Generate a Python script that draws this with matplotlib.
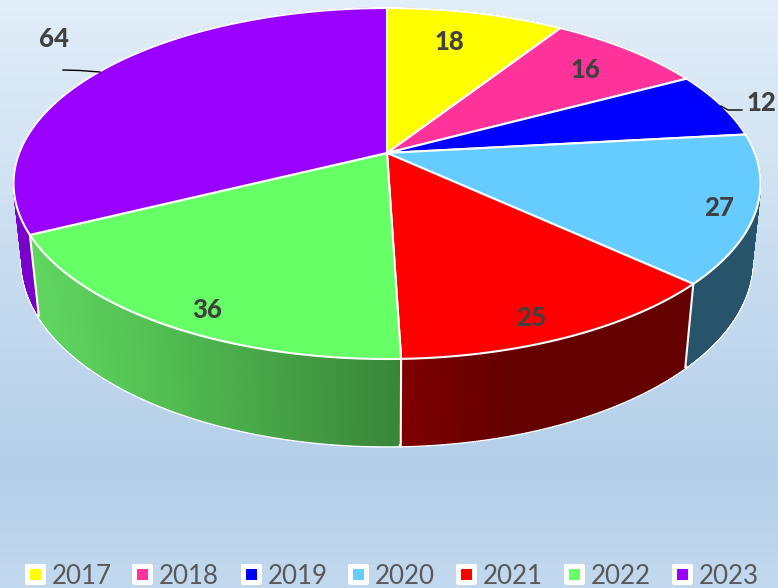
import numpy as np
import matplotlib
matplotlib.use('Agg')
import matplotlib.pyplot as plt
from matplotlib.colors import to_rgb
from matplotlib.patches import Polygon, Rectangle, FancyBboxPatch

plt.rcParams['font.family'] = ['Lato', 'DejaVu Sans']

years = ['2017', '2018', '2019', '2020', '2021', '2022', '2023']
values = [18, 16, 12, 27, 25, 36, 64]
colors = ['#ffff00', '#ff3399', '#0000ff', '#66ccff', '#ff0000', '#66ff66', '#9900ff']

# wall shading, (x pixel, colour) stops
wall_shades = {
    0: [(0, '#808000')],
    1: [(0, '#8a1f5c')],
    2: [(0, '#000080')],
    3: [(0, '#27536b')],
    4: [(400, '#800000'), (510, '#640000')],
    5: [(38, '#60d660'), (130, '#56c656'), (400, '#398539')],
    6: [(0, '#7a00cc')],
}

label_pos = [(449, 42), (585, 70), (761, 103), (719, 208), (531, 318), (207, 310), (54, 39)]
legend_x = [25, 132, 241, 348, 456, 564, 672]

# pie projection, fitted in pixels
cx, cy = 387, 153
ax_b, ax_a = 367.8, 170.2
k, m, depth = 0.1738, 0.0236, 78.4


def project(theta, z=0):
    u, v = np.sin(theta), -np.cos(theta)
    w = 1 - k * v + m * z
    return cx + ax_b * u / w, cy + (ax_a * v + depth * z) / w


fig = plt.figure(figsize=(7.78, 5.88), dpi=100)
ax = fig.add_axes([0, 0, 1, 1])
ax.set_xlim(0, 778)
ax.set_ylim(588, 0)
ax.axis('off')

# background gradient
ys = np.arange(588)
rgb = np.zeros((588, 1, 3))
for i in range(3):
    rgb[:, 0, i] = np.interp(ys, [0, 470, 588],
                             [c[i] for c in (to_rgb('#e2eef9'), to_rgb('#b4cfe9'), to_rgb('#c3d9ef'))])
ax.imshow(rgb, extent=[0, 778, 588, 0], aspect='auto', zorder=0)

edges = np.cumsum([0] + values) / sum(values) * 2 * np.pi

# walls, back to front. The white bottom rim goes under the fill so only its outer half shows
order = sorted(range(len(values)), key=lambda i: -np.cos((edges[i] + edges[i + 1]) / 2))
for i in order:
    t = np.linspace(edges[i], edges[i + 1], 160)
    xt, yt = project(t)
    xb, yb = project(t, 1)
    ax.plot(xb, yb, color='white', lw=3, zorder=2, solid_capstyle='round')
    stops = wall_shades[i]
    sx = [s[0] for s in stops]
    sc = np.array([to_rgb(s[1]) for s in stops])
    for j in range(len(t) - 1):
        mid = (xb[j] + xb[j + 1]) / 2
        c = [np.interp(mid, sx, sc[:, b]) for b in range(3)]
        quad = [(xt[j], yt[j]), (xt[j + 1], yt[j + 1]), (xb[j + 1], yb[j + 1]), (xb[j], yb[j])]
        ax.add_patch(Polygon(quad, facecolor=c, edgecolor=c, lw=1.0, zorder=2))

# dividers between the front walls
for e in edges[:-1]:
    if -np.cos(e) > 0:
        xt, yt = project(e)
        xb, yb = project(e, 1)
        ax.plot([xt, xb], [yt, yb], color='white', lw=1.5, zorder=2)

# top of the pie
for i in range(len(values)):
    t = np.linspace(edges[i], edges[i + 1], 160)
    xt, yt = project(t)
    pts = [(cx, cy)] + list(zip(xt, yt))
    ax.add_patch(Polygon(pts, facecolor=colors[i], edgecolor='white', lw=1.5, zorder=3, joinstyle='round'))

# leader lines
ax.plot([63, 80, 100], [70, 70.5, 72], color='black', lw=1, zorder=4)
ax.plot([721, 728, 742], [106, 110, 110], color='black', lw=1, zorder=4)

for v, (x, y) in zip(values, label_pos):
    ax.text(x, y, str(v), fontsize=18.5, fontweight=900, color='#404040',
            ha='center', va='center', zorder=5)

# legend
for year, color, x in zip(years, colors, legend_x):
    ax.add_patch(FancyBboxPatch((x + 2, 566), 17, 17, boxstyle='round,pad=2',
                                facecolor='white', edgecolor='none', zorder=4))
    ax.add_patch(Rectangle((x + 5, 569), 11, 11, facecolor=color, edgecolor='none', zorder=5))
    ax.text(x + 26.7, 584, year, fontsize=18.6, color='#595959', ha='left', va='baseline', zorder=5)

fig.savefig('out.png', dpi=100)
plt.close(fig)
